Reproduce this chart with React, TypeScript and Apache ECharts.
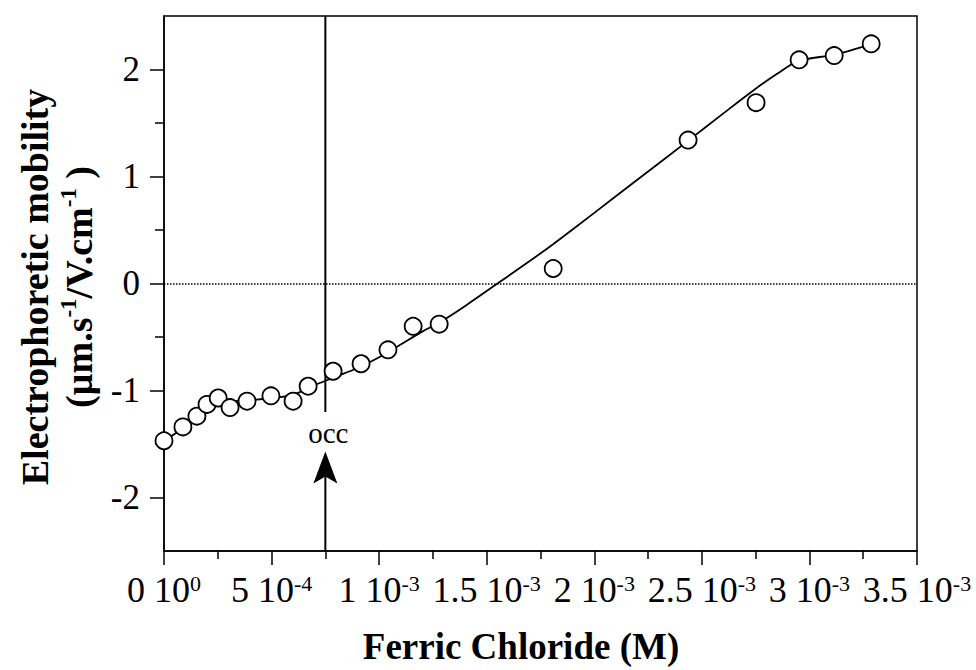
import React, { useEffect, useRef } from "react";
import * as echarts from "echarts";

// Measured points: ferric chloride concentration (M) and electrophoretic mobility
const pointX = [0, 0.000088, 0.000153, 0.0002, 0.000252, 0.000307, 0.000386, 0.000497, 0.0006, 0.00067, 0.000786, 0.000916, 0.001041, 0.001158, 0.001279, 0.001809, 0.002436, 0.002752, 0.002952, 0.003115, 0.003287];
const pointY = [-1.47, -1.34, -1.24, -1.13, -1.07, -1.16, -1.10, -1.05, -1.10, -0.96, -0.82, -0.75, -0.62, -0.40, -0.38, 0.14, 1.34, 1.69, 2.09, 2.13, 2.24];

// Fitted curve
const fitX = [0, 0.00009, 0.00015, 0.0002, 0.00025, 0.0003, 0.0004, 0.0005, 0.0006, 0.0007, 0.0008, 0.0009, 0.001, 0.0011, 0.0012, 0.0013, 0.0014, 0.00155, 0.0017, 0.00181, 0.002, 0.0022, 0.00244, 0.0026, 0.00275, 0.00285, 0.00295, 0.00312, 0.00329];
const fitY = [-1.47, -1.35, -1.25, -1.17, -1.12, -1.10, -1.09, -1.07, -1.04, -0.95, -0.87, -0.79, -0.69, -0.57, -0.45, -0.34, -0.21, 0, 0.21, 0.37, 0.66, 0.97, 1.34, 1.59, 1.82, 1.96, 2.08, 2.14, 2.24];

// Axis ticks
const xTickMantissa = ["0", "5", "1", "1.5", "2", "2.5", "3", "3.5"];
const xTickExponent = ["0", "-4", "-3", "-3", "-3", "-3", "-3", "-3"];
const yMajorTicks = [-2, -1, 0, 1, 2];
const yMinorTicks = [-1.5, -0.5, 0.5, 1.5];

// Annotation "occ"
const occX = 0.00075;
const occLineBottom = -1.2;
const occLabelY = -1.4;
const occArrowTipY = -1.57;

const X_MIN = 0;
const X_MAX = 0.0035;
const X_INTERVAL = 0.0005;
const Y_MIN = -2.5;
const Y_MAX = 2.5;

const SERIF = '"Liberation Serif", "Times New Roman", serif';

export default function App() {
  const ref = useRef<HTMLDivElement>(null);

  useEffect(() => {
    if (!ref.current) return;
    const chart = echarts.init(ref.current, null, { renderer: "svg" });

    const scatterData = pointX.map((x, i) => [x, pointY[i]]);
    const fitData = fitX.map((x, i) => [x, fitY[i]]);

    const option: any = {
      animation: false,
      backgroundColor: "#fff",
      textStyle: { fontFamily: SERIF, color: "#000" },
      grid: {
        left: 164,
        right: 59,
        top: 16,
        bottom: 119,
        show: true,
        borderColor: "#000",
        borderWidth: 1.5,
        backgroundColor: "transparent",
      },
      xAxis: {
        type: "value",
        min: X_MIN,
        max: X_MAX,
        interval: X_INTERVAL,
        axisLine: { show: true, onZero: false, lineStyle: { color: "#000", width: 1.5 } },
        axisTick: { show: true, inside: false, length: 14, lineStyle: { color: "#000", width: 1.5 } },
        minorTick: { show: true, splitNumber: 2, length: 8, lineStyle: { color: "#000", width: 1.5 } },
        splitLine: { show: false },
        minorSplitLine: { show: false },
        axisLabel: {
          show: true,
          margin: 21,
          showMinLabel: true,
          showMaxLabel: true,
          hideOverlap: false,
          formatter: (v: number) => {
            const i = Math.round(v / X_INTERVAL);
            return `{m|${xTickMantissa[i]} 10}{s|${xTickExponent[i]}}`;
          },
          rich: {
            m: { fontFamily: SERIF, fontSize: 36, lineHeight: 36, color: "#000" },
            s: { fontFamily: SERIF, fontSize: 22, lineHeight: 14, verticalAlign: "top", color: "#000" },
          },
        },
      },
      yAxis: [
        {
          type: "value",
          min: Y_MIN,
          max: Y_MAX,
          interval: 0.5,
          position: "left",
          axisLine: { show: true, onZero: false, lineStyle: { color: "#000", width: 1.5 } },
          axisTick: { show: true, inside: false, length: 14, customValues: yMajorTicks, lineStyle: { color: "#000", width: 1.5 } },
          splitLine: { show: false },
          axisLabel: {
            show: true,
            margin: 24,
            customValues: yMajorTicks,
            fontFamily: SERIF,
            fontSize: 35,
            color: "#000",
            formatter: (v: number) => String(v),
          },
        },
        {
          type: "value",
          min: Y_MIN,
          max: Y_MAX,
          interval: 0.5,
          position: "left",
          offset: 0,
          axisLine: { show: false },
          axisTick: { show: true, inside: false, length: 9, customValues: yMinorTicks, lineStyle: { color: "#000", width: 1.5 } },
          splitLine: { show: false },
          axisLabel: { show: false },
        },
      ],
      series: [
        {
          type: "line",
          name: "fit",
          data: fitData,
          smooth: 0.3,
          showSymbol: false,
          symbol: "none",
          lineStyle: { color: "#000", width: 1.8 },
          z: 2,
          markLine: {
            silent: true,
            symbol: "none",
            label: { show: false },
            lineStyle: { color: "#000", type: "dotted", width: 1.5 },
            data: [{ yAxis: 0 }],
          },
        },
        {
          type: "custom",
          name: "occ",
          data: [[occX, 0]],
          z: 3,
          silent: true,
          renderItem: (params: any, api: any) => {
            const x = api.value(0);
            const top = api.coord([x, Y_MAX]);
            const lineEnd = api.coord([x, occLineBottom]);
            const label = api.coord([x, occLabelY]);
            const tip = api.coord([x, occArrowTipY]);
            const bottom = api.coord([x, Y_MIN]);
            return {
              type: "group",
              children: [
                {
                  type: "line",
                  shape: { x1: top[0], y1: top[1], x2: lineEnd[0], y2: lineEnd[1] },
                  style: { stroke: "#000", lineWidth: 2 },
                },
                {
                  type: "text",
                  style: {
                    text: "occ",
                    x: label[0] + 3,
                    y: label[1],
                    align: "center",
                    verticalAlign: "middle",
                    font: `29px ${SERIF}`,
                    fill: "#000",
                  },
                },
                {
                  type: "polygon",
                  shape: {
                    points: [
                      [tip[0], tip[1]],
                      [tip[0] + 12, tip[1] + 32],
                      [tip[0], tip[1] + 25],
                      [tip[0] - 12, tip[1] + 32],
                    ],
                  },
                  style: { fill: "#000" },
                },
                {
                  type: "line",
                  shape: { x1: tip[0], y1: tip[1] + 20, x2: bottom[0], y2: bottom[1] },
                  style: { stroke: "#000", lineWidth: 2 },
                },
              ],
            };
          },
        },
        {
          type: "scatter",
          name: "points",
          data: scatterData,
          symbol: "circle",
          symbolSize: 17,
          itemStyle: { color: "#fff", borderColor: "#000", borderWidth: 1.8, opacity: 1 },
          z: 4,
        },
      ],
      graphic: [
        {
          type: "text",
          x: 521,
          y: 646,
          style: {
            text: "Ferric Chloride (M)",
            font: `bold 37px ${SERIF}`,
            fill: "#000",
            align: "center",
            verticalAlign: "middle",
          },
        },
        {
          type: "text",
          x: 57,
          y: 287,
          rotation: Math.PI / 2,
          style: {
            text: "{t|Electrophoretic mobility}\n{t|(µm.s}{u|-1}{t|/V.cm}{u|-1}{t| )}",
            align: "center",
            verticalAlign: "middle",
            fill: "#000",
            rich: {
              t: { font: `bold 38px ${SERIF}`, lineHeight: 44, fill: "#000" },
              u: { font: `bold 23px ${SERIF}`, lineHeight: 24, verticalAlign: "top", fill: "#000" },
            },
          },
        },
      ],
    };

    chart.setOption(option);
    return () => chart.dispose();
  }, []);

  return (
    <div
      ref={ref}
      style={{ position: "fixed", left: 0, top: 0, width: 976, height: 670, background: "#fff" }}
    />
  );
}
